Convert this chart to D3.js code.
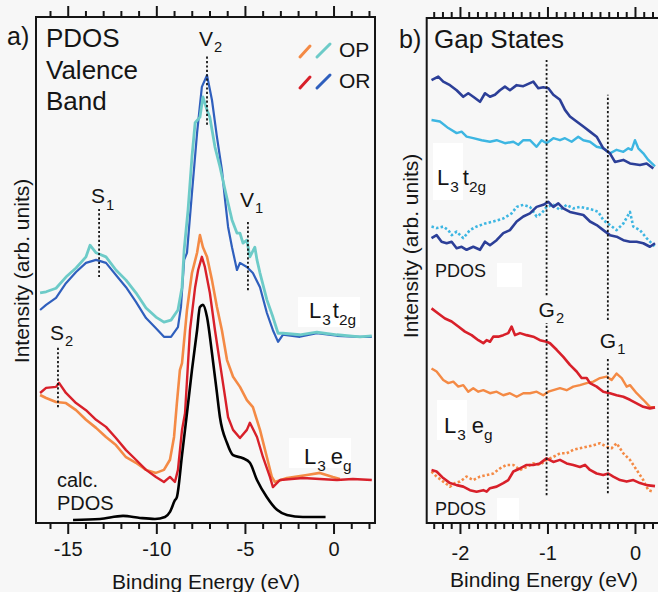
<!DOCTYPE html>
<html>
<head>
<meta charset="utf-8">
<script src="https://cdn.jsdelivr.net/npm/d3@7"></script>
<style>
  body { margin: 0; background: #f7f7f7; }
  svg { display: block; font-family: "Liberation Sans", Arial, sans-serif; }
</style>
</head>
<body>
<script>
// ---- panel a: valence band PDOS, [binding energy (eV), intensity (arb.)]
const opT2g = [[-16.56,45.5],[-16.22,45.7],[-15.66,46.4],[-15.10,48.6],[-14.53,50.4],[-13.97,52.6],[-13.74,54.9],[-13.40,53.4],[-12.84,52.6],[-12.28,50.0],[-11.71,48.0],[-11.15,45.5],[-10.58,42.5],[-10.02,40.7],[-9.57,39.7],[-9.17,40.1],[-8.78,42.1],[-8.55,46.6],[-8.43,54.0],[-8.21,61.9],[-7.99,72.3],[-7.81,79.1],[-7.54,80.2],[-7.37,84.2],[-7.14,81.6],[-6.98,80.2],[-6.69,74.3],[-6.41,70.4],[-6.12,65.8],[-5.95,63.2],[-5.73,59.9],[-5.45,57.3],[-5.28,57.3],[-5.11,55.3],[-4.89,55.9],[-4.72,52.6],[-4.44,54.5],[-4.32,52.0],[-4.15,49.4],[-3.76,44.1],[-3.42,40.7],[-3.13,37.5],[-2.86,37.5],[-1.90,37.2],[-0.94,37.7],[0.19,37.2],[1.49,36.8],[2.16,37.0]];
const orT2g = [[-16.56,42.1],[-16.22,43.1],[-15.66,44.5],[-15.10,47.4],[-14.53,49.6],[-13.97,51.4],[-13.40,52.0],[-12.84,51.4],[-12.28,49.0],[-11.71,46.6],[-11.15,43.7],[-10.58,40.5],[-10.02,38.5],[-9.57,36.8],[-9.17,36.8],[-8.78,38.7],[-8.61,42.7],[-8.43,52.0],[-8.27,53.4],[-7.99,65.2],[-7.70,77.1],[-7.43,86.2],[-7.14,88.5],[-6.86,83.6],[-6.58,76.3],[-6.30,69.8],[-6.12,63.8],[-5.95,58.5],[-5.73,54.5],[-5.45,50.0],[-5.28,51.4],[-4.89,50.6],[-4.55,49.4],[-4.15,46.6],[-3.76,41.5],[-3.42,38.1],[-3.13,35.8],[-2.86,37.2],[-1.90,36.8],[-0.94,37.5],[0.19,37.0],[1.49,36.8],[2.16,36.8]];
const opEg = [[-16.56,25.3],[-16.22,24.7],[-15.66,23.9],[-15.10,23.7],[-14.53,22.3],[-13.97,20.4],[-13.40,18.8],[-12.84,17.0],[-12.28,15.4],[-11.71,13.0],[-11.15,11.9],[-10.58,10.5],[-10.02,9.9],[-9.57,10.5],[-9.23,12.5],[-9.00,17.0],[-8.84,23.7],[-8.67,30.2],[-8.55,31.6],[-8.27,42.1],[-7.99,49.4],[-7.70,53.4],[-7.54,56.9],[-7.37,54.5],[-7.14,52.6],[-6.86,48.0],[-6.58,42.7],[-6.30,38.1],[-6.01,32.2],[-5.67,28.9],[-5.28,26.9],[-4.89,24.3],[-4.55,22.9],[-4.15,18.4],[-3.76,13.0],[-3.48,9.1],[-3.31,8.1],[-2.63,8.9],[-1.50,9.5],[-0.77,9.9],[-0.04,9.1],[0.36,8.7]];
const orEg = [[-16.56,25.7],[-16.22,26.7],[-15.66,26.9],[-15.49,27.7],[-15.10,25.7],[-14.53,23.7],[-13.97,22.3],[-13.40,20.4],[-12.84,19.0],[-12.28,16.8],[-11.71,14.4],[-11.15,12.5],[-10.58,10.5],[-10.02,9.1],[-9.57,8.1],[-9.23,9.1],[-8.95,8.1],[-8.78,10.5],[-8.55,18.4],[-8.38,21.7],[-8.10,38.1],[-7.81,46.6],[-7.64,50.0],[-7.43,52.6],[-7.26,50.6],[-6.98,45.5],[-6.69,38.1],[-6.41,31.6],[-6.12,24.9],[-5.95,20.9],[-5.67,18.4],[-5.28,16.8],[-4.89,18.4],[-4.72,19.8],[-4.32,17.0],[-3.98,13.0],[-3.59,9.1],[-3.42,7.1],[-3.02,8.5],[-1.73,8.9],[0.19,8.5],[1.09,8.7],[2.16,8.5]];
const calcPdos = [[-14.70,0.6],[-13.18,0.8],[-11.88,1.4],[-10.92,1.0],[-10.08,0.8],[-9.51,1.2],[-9.23,2.2],[-8.95,4.5],[-8.84,5.1],[-8.55,13.4],[-8.27,21.7],[-7.99,30.2],[-7.70,38.1],[-7.54,42.7],[-7.37,43.1],[-7.14,40.7],[-6.86,33.6],[-6.58,25.7],[-6.41,20.9],[-6.01,15.8],[-5.67,13.4],[-5.11,12.8],[-4.72,11.9],[-4.32,8.5],[-3.76,5.1],[-3.19,2.6],[-2.63,1.6],[-1.73,1.2],[-0.45,1.2]];

// peak markers: energy, dotted line span, label height
const peaksA = [
  {name: "V", sub: "2", e: -7.14, lo: 78.7, hi: 92.5, lab: 94.3},
  {name: "S", sub: "1", e: -13.23, lo: 48.6, hi: 62.5, lab: 63.2},
  {name: "V", sub: "1", e: -4.83, lo: 46.0, hi: 59.9, lab: 62.5},
  {name: "S", sub: "2", e: -15.55, lo: 22.9, hi: 35.0, lab: 36.2}
];
const ticksA = [-15, -10, -5, 0];

// ---- panel b: gap states
const orT2gGap = [[-2.325,87.7],[-2.248,88.4],[-2.191,87.4],[-2.114,86.7],[-2.038,85.7],[-1.962,84.4],[-1.905,85.1],[-1.848,84.4],[-1.771,83.4],[-1.714,85.1],[-1.657,84.4],[-1.6,84.8],[-1.543,85.7],[-1.486,86.4],[-1.429,85.7],[-1.352,86.7],[-1.276,86.5],[-1.162,87.4],[-1.105,86.1],[-1.048,86.3],[-0.99,86.1],[-0.933,84.8],[-0.857,83.8],[-0.8,81.8],[-0.743,80.5],[-0.667,79.5],[-0.59,78.5],[-0.514,77.5],[-0.438,76.5],[-0.362,74.2],[-0.286,73.2],[-0.229,71.5],[-0.133,71.9],[-0.057,71.2],[0.057,70.9],[0.133,71.2],[0.21,70.2]];
const opT2gGap = [[-2.325,79.8],[-2.229,79.5],[-2.133,78.2],[-2.038,77.2],[-1.981,77.5],[-1.924,76.5],[-1.848,76.2],[-1.752,75.8],[-1.657,75.5],[-1.581,75.8],[-1.486,75.2],[-1.39,75.5],[-1.333,74.9],[-1.276,75.8],[-1.2,75.8],[-1.124,74.5],[-1.067,75.8],[-1.01,75.2],[-0.933,76.2],[-0.857,75.8],[-0.8,76.2],[-0.724,75.5],[-0.648,76.5],[-0.59,75.8],[-0.514,75.5],[-0.438,74.5],[-0.362,74.2],[-0.286,73.2],[-0.21,73.9],[-0.133,73.5],[-0.076,74.2],[-0.038,73.9],[0,75.8],[0.038,74.2],[0.095,73.2],[0.152,71.9],[0.229,70.6]];
const orT2gPdos = [[-2.325,56.4],[-2.267,57.0],[-2.21,55.7],[-2.152,55.4],[-2.095,55.7],[-2.038,54.4],[-1.981,54.7],[-1.924,54.1],[-1.848,54.7],[-1.771,54.1],[-1.714,55.7],[-1.657,55.0],[-1.581,56.0],[-1.505,57.4],[-1.429,58.0],[-1.352,59.7],[-1.276,60.7],[-1.2,61.3],[-1.124,62.6],[-1.048,63.0],[-0.99,63.6],[-0.933,62.6],[-0.876,63.3],[-0.819,62.3],[-0.743,61.6],[-0.667,61.3],[-0.59,61.0],[-0.514,59.7],[-0.438,59.0],[-0.362,58.0],[-0.286,57.0],[-0.21,56.7],[-0.133,56.0],[-0.057,55.7],[0.019,55.7],[0.095,55.4],[0.171,54.7],[0.229,55.4]];
const opT2gPdos = [[-2.325,58.7],[-2.267,58.4],[-2.191,58.7],[-2.133,58.0],[-2.095,57.0],[-2.038,57.7],[-1.962,56.4],[-1.886,58.0],[-1.81,58.7],[-1.714,59.3],[-1.619,59.7],[-1.505,60.3],[-1.41,61.3],[-1.352,62.6],[-1.276,63.0],[-1.2,62.6],[-1.124,60.7],[-1.067,61.3],[-1.01,62.6],[-0.933,63.0],[-0.857,62.0],[-0.781,63.0],[-0.705,62.3],[-0.629,62.6],[-0.552,62.3],[-0.476,62.0],[-0.419,61.6],[-0.362,60.0],[-0.286,59.0],[-0.21,58.0],[-0.133,59.3],[-0.057,61.6],[-0.019,58.7],[0.057,58.0],[0.133,56.4],[0.229,54.7]];
const orEgGap = [[-2.325,42.5],[-2.248,41.5],[-2.171,40.5],[-2.095,39.9],[-2.019,38.9],[-1.943,37.9],[-1.867,37.2],[-1.79,36.2],[-1.733,35.6],[-1.695,36.2],[-1.657,35.9],[-1.619,36.9],[-1.562,36.9],[-1.505,37.2],[-1.448,37.6],[-1.41,38.9],[-1.371,37.2],[-1.314,37.6],[-1.238,37.2],[-1.162,36.9],[-1.086,36.2],[-1.01,35.9],[-0.971,35.6],[-0.895,34.3],[-0.819,32.9],[-0.743,31.3],[-0.667,30.0],[-0.61,28.7],[-0.552,28.7],[-0.514,27.7],[-0.438,27.0],[-0.362,26.0],[-0.286,25.7],[-0.21,25.3],[-0.133,25.0],[-0.057,24.4],[0.019,23.7],[0.095,23.0],[0.171,22.7],[0.229,22.9]];
const opEgGap = [[-2.325,30.6],[-2.267,30.0],[-2.191,28.3],[-2.133,27.7],[-2.076,28.0],[-2.019,27.0],[-1.962,27.3],[-1.905,26.0],[-1.848,26.7],[-1.79,26.0],[-1.733,26.3],[-1.657,25.7],[-1.581,26.0],[-1.505,25.3],[-1.429,25.7],[-1.352,25.0],[-1.276,25.7],[-1.2,25.7],[-1.124,26.0],[-1.048,25.3],[-0.99,26.0],[-0.933,26.3],[-0.857,26.7],[-0.781,26.3],[-0.705,27.0],[-0.629,27.3],[-0.552,27.7],[-0.476,28.0],[-0.4,28.7],[-0.324,29.0],[-0.267,28.3],[-0.21,29.6],[-0.152,28.7],[-0.095,27.0],[-0.057,27.3],[0.019,25.7],[0.095,24.4],[0.171,23.0],[0.229,22.9]];
const orEgPdos = [[-2.325,10.5],[-2.267,10.2],[-2.191,8.9],[-2.114,7.9],[-2.038,7.5],[-1.962,7.2],[-1.886,6.5],[-1.81,6.2],[-1.733,6.5],[-1.695,6.2],[-1.657,6.9],[-1.581,7.2],[-1.505,7.9],[-1.448,8.5],[-1.39,10.2],[-1.314,10.8],[-1.238,11.5],[-1.162,11.5],[-1.086,11.8],[-1.01,12.8],[-0.933,12.1],[-0.857,12.5],[-0.781,11.8],[-0.705,11.5],[-0.629,11.1],[-0.571,11.5],[-0.514,10.5],[-0.438,9.8],[-0.362,9.5],[-0.305,9.8],[-0.248,9.2],[-0.171,8.5],[-0.095,8.2],[-0.019,8.5],[0.057,7.9],[0.133,7.5],[0.229,7.3]];
const opEgPdos = [[-2.325,10.2],[-2.267,9.2],[-2.191,8.2],[-2.114,7.2],[-2.057,7.9],[-2.0,8.2],[-1.924,9.2],[-1.848,8.5],[-1.771,9.2],[-1.695,9.5],[-1.619,9.8],[-1.543,10.8],[-1.467,11.5],[-1.39,11.5],[-1.314,10.5],[-1.238,11.1],[-1.162,11.8],[-1.086,11.5],[-1.01,12.5],[-0.933,13.1],[-0.857,13.8],[-0.781,13.8],[-0.705,14.5],[-0.629,14.8],[-0.552,15.1],[-0.476,15.4],[-0.4,15.8],[-0.324,15.1],[-0.267,14.8],[-0.21,15.8],[-0.133,13.8],[-0.057,12.5],[0.019,10.5],[0.095,8.5],[0.152,6.5],[0.21,6.2]];

const peaksB = [
  {name: "G", sub: "2", e: -1.01, spans: [[45.1, 91.7], [5.5, 39.6]], lab: 40.8},
  {name: "G", sub: "1", e: -0.31, spans: [[40.2, 84.8], [5.9, 32.7]], lab: 34.7}
];
const ticksB = [-2, -1, 0];

const C = {teal: "#6dcbc8", blue: "#2f5fbd", orange: "#f48a45", red: "#d8202a",
           navy: "#2c3f98", sky: "#3db6e2", ink: "#151515"};

const svg = d3.select("body").append("svg").attr("width", 658).attr("height", 592);
svg.append("rect").attr("width", 658).attr("height", 592).attr("fill", "#f7f7f7");

// text with subscripts: parts = [[string, isSub, dx]]
function rich(g, x, y, parts, size) {
  const t = g.append("text").attr("x", x).attr("y", y)
    .attr("font-size", size).attr("fill", C.ink);
  let shift = 0;
  parts.forEach(([s, sub, dx]) => {
    const target = sub ? size * 0.3 : 0;
    t.append("tspan").attr("dy", target - shift).attr("dx", dx || 0)
      .attr("font-size", sub ? size * 0.7 : size).text(s);
    shift = target;
  });
  return t;
}

function axes(g, x, yTop, yBot, majors, minors, pad) {
  const add = (axis, y) => {
    const a = g.append("g").attr("transform", "translate(0," + y + ")").call(axis);
    a.select(".domain").remove();
    a.selectAll(".tick line").attr("stroke", C.ink).attr("stroke-width", 2);
    return a;
  };
  add(d3.axisBottom(x).tickValues(minors).tickSize(6).tickFormat(() => ""), yBot);
  add(d3.axisTop(x).tickValues(minors).tickSize(6).tickFormat(() => ""), yTop);
  add(d3.axisTop(x).tickValues(majors).tickSize(11).tickFormat(() => ""), yTop);
  const b = add(d3.axisBottom(x).tickValues(majors).tickSize(11).tickPadding(pad).tickFormat(d => String(d)), yBot);
  b.selectAll("text").attr("font-size", 20).attr("fill", C.ink)
    .attr("font-family", "Liberation Sans, Arial, sans-serif");
}

function frame(g, d) {
  g.append("path").attr("d", d).attr("fill", "none")
    .attr("stroke", C.ink).attr("stroke-width", 2);
}

function curve(g, x, y, data, color, width, dash) {
  const p = g.append("path").datum(data)
    .attr("d", d3.line().x(d => x(d[0])).y(d => y(d[1])))
    .attr("fill", "none").attr("stroke", color).attr("stroke-width", width)
    .attr("stroke-linejoin", "round");
  if (dash) p.attr("stroke-dasharray", dash);
  return p;
}

function vdots(g, x, y, e, lo, hi) {
  g.append("line").attr("x1", x(e)).attr("x2", x(e)).attr("y1", y(lo)).attr("y2", y(hi))
    .attr("stroke", C.ink).attr("stroke-width", 1.8).attr("stroke-dasharray", "2.2,2.2");
}

// ================= panel a =================
const xA = d3.scaleLinear().domain([-16.79, 2.34]).range([36, 375]);
const yA = d3.scaleLinear().domain([0, 100]).range([523, 17]);
const ga = svg.append("g");

ga.append("rect").attr("x", 298).attr("y", 297).attr("width", 62).attr("height", 30).attr("fill", "#fff");
ga.append("rect").attr("x", 289).attr("y", 438).attr("width", 62).attr("height", 30).attr("fill", "#fff");

curve(ga, xA, yA, orT2g, C.blue, 2.2);
curve(ga, xA, yA, opT2g, C.teal, 2.8);
curve(ga, xA, yA, opEg, C.orange, 2.6);
curve(ga, xA, yA, orEg, C.red, 2.4);
ga.append("path").datum(calcPdos)
  .attr("d", d3.line().x(d => xA(d[0])).y(d => yA(d[1])).curve(d3.curveMonotoneX))
  .attr("fill", "none").attr("stroke", "#000").attr("stroke-width", 2.6);

peaksA.forEach(p => {
  vdots(ga, xA, yA, p.e, p.lo, p.hi);
  rich(ga, xA(p.e) - 8, yA(p.lab), [[p.name, false], [p.sub, true, 1]], 21);
});

frame(ga, "M36,17H375V523H36Z");
axes(ga, xA, 17, 523, ticksA, d3.range(-16, 3).filter(v => v % 5 !== 0), 8);

ga.append("text").attr("x", 7).attr("y", 45).attr("font-size", 25).attr("fill", C.ink).text("a)");
["PDOS", "Valence", "Band"].forEach((s, i) =>
  ga.append("text").attr("x", 46).attr("y", 47 + i * 31.5).attr("font-size", 26).attr("fill", C.ink).text(s));

// legend
const leg = [[C.orange, C.teal, "OP", 57], [C.red, C.blue, "OR", 88]];
leg.forEach(([c1, c2, name, y]) => {
  ga.append("line").attr("x1", 300).attr("y1", y).attr("x2", 310).attr("y2", y - 11)
    .attr("stroke", c1).attr("stroke-width", 3).attr("stroke-linecap", "round");
  ga.append("line").attr("x1", 317).attr("y1", y).attr("x2", 330).attr("y2", y - 13)
    .attr("stroke", c2).attr("stroke-width", 3).attr("stroke-linecap", "round");
  ga.append("text").attr("x", 339).attr("y", y).attr("font-size", 21).attr("fill", C.ink).text(name);
});

rich(ga, 309, 318, [["L", false], ["3", true, 1], ["t", false, 2], ["2g", true]], 22);
rich(ga, 304, 464, [["L", false], ["3", true, 1], ["e", false, 5], ["g", true]], 22);
ga.append("text").attr("x", 57).attr("y", 487).attr("font-size", 20).attr("fill", C.ink).text("calc.");
ga.append("text").attr("x", 57).attr("y", 510).attr("font-size", 20).attr("fill", C.ink).text("PDOS");

ga.append("text").attr("x", 206).attr("y", 589).attr("text-anchor", "middle")
  .attr("font-size", 21).attr("fill", C.ink).text("Binding Energy (eV)");
ga.append("text").attr("transform", "translate(29,271) rotate(-90)").attr("text-anchor", "middle")
  .attr("font-size", 21).attr("fill", C.ink).text("Intensity (arb. units)");

// ================= panel b =================
const xB = d3.scaleLinear().domain([-2.38, 0.286]).range([426.7, 660]);
const yB = d3.scaleLinear().domain([0, 100]).range([523, 18]);
const gb = svg.append("g");

gb.append("rect").attr("x", 433).attr("y", 143).attr("width", 30).attr("height", 57).attr("fill", "#fff");
gb.append("rect").attr("x", 497).attr("y", 263).attr("width", 25).attr("height", 24).attr("fill", "#fff");
gb.append("rect").attr("x", 437).attr("y", 400).attr("width", 30).attr("height", 40).attr("fill", "#fff");
gb.append("rect").attr("x", 497).attr("y", 498).attr("width", 22).attr("height", 22).attr("fill", "#fff");

curve(gb, xB, yB, opT2gGap, C.sky, 2.4);
curve(gb, xB, yB, orT2gGap, C.navy, 2.6);
curve(gb, xB, yB, opT2gPdos, C.sky, 2.6, "2.5,2.2");
curve(gb, xB, yB, orT2gPdos, C.navy, 2.6);
curve(gb, xB, yB, opEgGap, C.orange, 2.4);
curve(gb, xB, yB, orEgGap, C.red, 2.6);
curve(gb, xB, yB, opEgPdos, C.orange, 2.6, "2.5,2.2");
curve(gb, xB, yB, orEgPdos, C.red, 2.6);

peaksB.forEach(p => {
  p.spans.forEach(s => vdots(gb, xB, yB, p.e, s[0], s[1]));
  rich(gb, xB(p.e) - 8, yB(p.lab), [[p.name, false], [p.sub, true, 1]], 21);
});

frame(gb, "M660,18H426.7V523H660");
axes(gb, xB, 18, 523, ticksB, d3.range(-23, 3).map(v => v / 10).filter(v => Math.round(v * 10) % 10 !== 0), 12);

gb.append("text").attr("x", 399).attr("y", 48).attr("font-size", 25).attr("fill", C.ink).text("b)");
gb.append("text").attr("x", 434).attr("y", 48).attr("font-size", 26).attr("fill", C.ink).text("Gap States");
rich(gb, 437, 185, [["L", false], ["3", true, 1], ["t", false, 4], ["2g", true]], 22);
gb.append("text").attr("x", 435).attr("y", 277).attr("font-size", 18).attr("fill", C.ink).text("PDOS");
rich(gb, 444, 433, [["L", false], ["3", true, 1], ["e", false, 6], ["g", true]], 22);
gb.append("text").attr("x", 435).attr("y", 515).attr("font-size", 18).attr("fill", C.ink).text("PDOS");

gb.append("text").attr("x", 544).attr("y", 587).attr("text-anchor", "middle")
  .attr("font-size", 21).attr("fill", C.ink).text("Binding Energy (eV)");
gb.append("text").attr("transform", "translate(418,246) rotate(-90)").attr("text-anchor", "middle")
  .attr("font-size", 21).attr("fill", C.ink).text("Intensity (arb. units)");
</script>
</body>
</html>
